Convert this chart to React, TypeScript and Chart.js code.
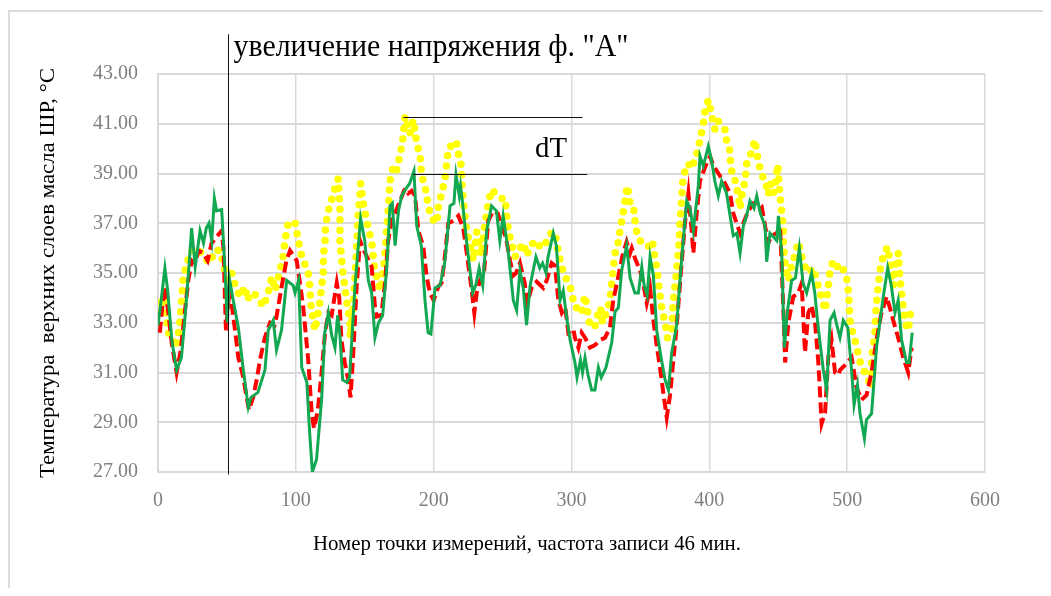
import React, { useEffect, useRef } from 'react';
import Chart from 'chart.js/auto';

// ---------- data ----------
const greenX = [0, 2.5, 5, 7, 10, 13.5, 17, 20, 22.5, 24.4, 27, 30.5, 33, 35, 37, 39, 40.9, 42.5, 46.2, 48.6, 50.3, 51.7, 54.6, 58.3, 61.9, 65.5, 67.5, 70, 72.5, 77.6, 80, 83.6, 86, 89.6, 93.4, 98, 99.4, 102, 104.3, 108, 110, 112, 115, 118.7, 121, 123.6, 126, 128.4, 130.3, 132, 134, 137, 139, 142.9, 147, 150, 152.6, 155, 157.4, 160, 163, 166, 168.3, 170, 172, 174.5, 176.8, 180, 182.6, 185.7, 187.7, 191, 193.7, 196, 198, 201, 204.6, 208, 211.9, 214.7, 216.2, 218.6, 219.5, 220.8, 224, 228.3, 230.5, 233, 235.6, 238.5, 242, 245.5, 248, 250.4, 254, 257.8, 260.2, 262.6, 265, 267.4, 270, 274.2, 277, 279, 281.5, 283, 286.8, 289, 291.7, 294, 296.5, 299, 302.5, 304, 306.5, 308, 309.8, 312, 314.6, 317, 319.5, 321.6, 325, 329.2, 331.6, 334, 336.4, 340, 342.5, 346, 348.5, 351, 352.7, 354.9, 357, 359.4, 361.8, 365, 367.9, 370.3, 372.7, 376.3, 378.7, 381.1, 383.6, 386, 388.4, 392, 393.2, 395.6, 399.3, 401.7, 404, 406.5, 408.9, 412.5, 416.2, 417.4, 420, 422.3, 424.7, 427, 429.5, 432.4, 434.4, 437, 440.4, 441.6, 444, 448.9, 450.1, 452.5, 453.7, 454.5, 456.5, 459.7, 462.5, 465.3, 468, 470.6, 474.2, 476.5, 479, 482.7, 485.1, 487.6, 490.5, 492.5, 494.8, 497.2, 500.5, 503.2, 505, 507.5, 509.3, 512.5, 514, 517.7, 521.3, 526.2, 529.4, 532, 534.7, 537, 539.5, 543.1, 545, 547.2];
const greenY = [32.9, 34.0, 35.2, 34.3, 32.3, 31.1, 31.6, 33.5, 35.3, 36.8, 35.25, 36.7, 36.2, 36.8, 37.0, 36.3, 38.0, 37.5, 37.55, 35.1, 33.0, 34.8, 33.9, 32.8, 31.1, 29.6, 30.0, 30.1, 30.2, 31.1, 32.7, 33.1, 31.9, 32.7, 34.7, 34.5, 34.2, 34.7, 31.2, 30.6, 28.6, 27.0, 27.5, 29.9, 32.6, 33.4, 32.5, 32.0, 33.3, 32.5, 30.7, 30.6, 30.8, 34.45, 37.2, 36.3, 34.7, 34.2, 32.4, 33.0, 33.3, 35.25, 37.7, 37.8, 36.1, 37.5, 38.1, 38.4, 38.6, 39.1, 36.9, 36.1, 33.9, 32.6, 32.55, 34.4, 34.5, 35.4, 37.7, 37.8, 38.95, 38.1, 38.5, 37.9, 36.2, 34.2, 34.5, 35.2, 34.5, 36.7, 37.7, 37.5, 36.3, 37.3, 35.9, 33.9, 33.5, 35.1, 34.4, 32.9, 34.5, 35.65, 35.2, 35.4, 35.0, 35.65, 36.6, 36.1, 33.9, 34.3, 33.2, 32.3, 31.4, 30.8, 31.5, 31.0, 31.6, 30.9, 30.3, 30.3, 31.2, 30.8, 31.2, 32.2, 33.45, 33.6, 35.1, 36.1, 34.8, 34.2, 34.2, 35.25, 34.5, 34.1, 35.65, 34.9, 32.7, 31.6, 30.7, 30.3, 31.8, 32.9, 34.7, 36.3, 37.9, 37.6, 36.7, 38.5, 39.7, 39.3, 40.1, 39.5, 38.7, 38.1, 38.7, 38.2, 36.9, 36.5, 36.6, 35.8, 36.9, 37.3, 37.9, 37.6, 38.1, 37.4, 36.9, 35.45, 36.6, 36.3, 37.3, 35.8, 33.4, 32.0, 33.4, 34.7, 34.8, 36.0, 34.6, 34.2, 35.0, 34.2, 32.8, 31.1, 30.3, 33.1, 33.4, 32.9, 32.4, 33.1, 32.8, 31.1, 29.7, 30.5, 29.35, 28.35, 29.1, 29.35, 32.0, 34.05, 35.2, 34.5, 33.4, 33.9, 32.3, 31.4, 31.4, 32.6];

const redX = [1.3, 3.4, 5, 7.5, 9.9, 13.5, 16.5, 19.6, 22, 24.4, 26.8, 29.5, 32.9, 36, 38.9, 42.5, 46.2, 47.5, 49.3, 51.8, 54, 55.9, 58.3, 61.9, 64.3, 66, 69, 71.6, 74, 77.5, 81.3, 84.5, 86, 89.7, 93.2, 95.8, 100.6, 103, 105.4, 109, 111.5, 113.2, 116, 118.7, 121.2, 123.6, 126, 129.7, 131.5, 133.1, 135.5, 138, 139.7, 141.7, 144.1, 146.6, 148.5, 150.3, 155, 157.4, 158.7, 162, 164.7, 167, 169.5, 172, 175.6, 179.2, 181.6, 184, 186.5, 188.9, 192.5, 194.9, 197.3, 200, 203.4, 205.8, 208.2, 210.6, 214.2, 217.9, 221.5, 224, 227.6, 229.5, 231.2, 233.6, 236.5, 239.6, 243.3, 246.5, 249.3, 252.5, 255.4, 257.8, 259.8, 262.6, 266, 267.9, 271, 274.7, 279.5, 282, 285.6, 288, 290.5, 293, 295.5, 297.7, 301.3, 302.5, 305, 307.4, 309.8, 313.4, 317, 320.7, 324.3, 327.9, 330.3, 333.9, 337, 340, 342.5, 343.7, 346, 349.7, 352, 354.6, 357, 359.4, 361.8, 364.2, 366.7, 369.1, 371.5, 373.9, 376.3, 379.9, 382.3, 384.8, 387.2, 388.4, 390.8, 393.2, 396.5, 400.5, 403, 407.8, 411.4, 415, 417.4, 419.8, 422.3, 424.7, 428.3, 431.9, 435.5, 437.9, 440.4, 442.8, 445.2, 448.9, 451.3, 452.5, 453.7, 455, 457.3, 460.9, 464.5, 467, 469.4, 471.8, 474.2, 476.7, 479.1, 481.5, 484, 486.3, 488.7, 491.2, 493.6, 494.8, 498.4, 503.2, 506.8, 510.4, 514.1, 517.7, 521.3, 524.5, 528.6, 531, 533.4, 537, 540.7, 544.3, 546.8];
const redY = [32.6, 33.8, 34.45, 33.4, 32.2, 31.0, 31.9, 33.5, 34.7, 35.5, 35.4, 35.9, 35.8, 35.5, 36.2, 36.45, 36.7, 36.0, 32.7, 34.3, 33.5, 32.7, 31.6, 30.8, 30.0, 29.5, 30.0, 30.7, 31.5, 32.4, 33.0, 32.9, 33.25, 34.45, 35.5, 35.9, 35.5, 34.6, 33.6, 31.5, 29.35, 28.75, 29.5, 31.0, 32.6, 33.4, 33.3, 34.6, 34.0, 32.3, 31.4, 30.7, 30.0, 31.8, 34.45, 36.3, 36.0, 35.8, 35.25, 33.65, 33.25, 33.3, 34.6, 36.3, 37.1, 37.4, 37.9, 38.4, 38.2, 38.3, 38.1, 36.7, 36.05, 34.85, 34.2, 33.9, 34.45, 34.6, 35.7, 37.0, 37.1, 37.3, 36.8, 35.8, 34.3, 33.4, 34.2, 34.7, 35.0, 37.1, 37.5, 37.4, 36.9, 36.4, 35.5, 34.9, 35.0, 35.4, 34.6, 33.8, 34.4, 34.65, 34.4, 34.7, 35.4, 35.3, 33.9, 33.4, 33.6, 32.6, 32.75, 32.4, 32.0, 32.6, 32.4, 32.0, 32.1, 32.3, 32.4, 32.8, 33.9, 34.85, 35.7, 36.25, 35.8, 36.0, 35.6, 35.1, 34.6, 33.8, 34.4, 33.1, 32.1, 31.2, 30.15, 29.2, 30.1, 31.5, 32.85, 35.4, 37.0, 38.2, 36.7, 35.8, 37.4, 38.7, 39.2, 39.7, 39.3, 38.9, 38.6, 38.2, 37.4, 37.0, 36.6, 37.0, 37.5, 37.8, 37.8, 37.7, 36.9, 36.2, 36.5, 36.6, 36.9, 35.25, 33.5, 31.4, 33.0, 34.05, 34.2, 34.6, 31.8, 33.4, 33.7, 33.0, 31.4, 28.95, 29.4, 31.6, 32.3, 31.0, 30.9, 31.1, 31.3, 31.6, 30.4, 29.9, 30.1, 31.0, 32.3, 33.3, 34.05, 33.6, 33.1, 32.4, 31.6, 31.0, 32.0];

const yellowX = [0, 2, 5, 7.5, 11.1, 13.5, 16, 18.4, 21, 24.4, 28, 31.7, 34, 37.7, 41, 45, 47.4, 49.8, 53.4, 56, 59.5, 63.1, 65, 67, 71.6, 76.4, 80, 82.5, 85, 88.5, 90.9, 92.1, 94.5, 99.4, 101.8, 104.3, 107, 109, 110.3, 110.8, 112.7, 113.9, 115.5, 117.5, 118.7, 119.9, 120, 121.2, 121.5, 123.6, 126, 128.4, 130.8, 132, 132, 134, 136.8, 139.3, 139.5, 141.5, 142.9, 144, 145.3, 146.5, 147, 149, 151.3, 153.5, 155.6, 156.5, 158.7, 161, 163.5, 165.4, 167, 168.3, 170.7, 173, 175.6, 177.5, 179.2, 181, 182.8, 185.2, 186.5, 187.7, 190.1, 191.3, 193.7, 195.5, 197.3, 200, 202.2, 203.5, 205.8, 208.2, 209.4, 210.6, 214.2, 216.5, 217.5, 218.6, 220.3, 220.3, 221.5, 222.7, 224, 226, 228.8, 231.2, 233, 234.7, 237, 239.6, 242, 245.6, 249, 251.8, 253, 254.2, 256.5, 259, 261.5, 265, 267.5, 269.8, 272, 274.7, 277.5, 280.7, 283, 285.6, 288, 290.5, 294.1, 297.7, 299, 301.3, 303, 305, 307.4, 309.8, 311.5, 313.4, 317, 319.5, 321, 322.5, 324.3, 327.9, 329.2, 330.3, 331.6, 333.5, 335.2, 337.1, 338.8, 340.5, 342.5, 344.9, 345.7, 347.3, 349.7, 352.5, 355.7, 358.6, 360, 361.8, 363, 364.2, 365.4, 367.9, 369.6, 372.7, 373.9, 375.1, 376.3, 377.5, 378.2, 378.7, 381, 384.7, 387, 390.8, 393.2, 395.6, 396.9, 399.3, 401.7, 404.1, 406.5, 409, 411.4, 412.5, 415, 415.5, 417.4, 419, 421, 422.3, 424, 425.9, 427.1, 429, 430.7, 433.1, 434.5, 436.8, 438.5, 440.4, 442.8, 444, 446.5, 448.4, 449.6, 451.3, 452.5, 453.7, 453.7, 454.5, 455.6, 457.3, 459.7, 462.5, 464.5, 466.9, 469, 471.8, 475.5, 477.9, 480.3, 484, 486.3, 487.6, 489.9, 493.6, 496, 499.6, 501, 501.6, 502.4, 505.7, 508.1, 510.5, 513, 515.3, 517.7, 517.7, 518.9, 520.2, 520.6, 521.4, 522.6, 523.8, 526.2, 529.3, 531, 533.5, 535, 537.1, 538.3, 539.5, 540.7, 542, 544.3, 546];
const yellowY = [33.4, 34.0, 33.8, 32.6, 32.3, 32.0, 33.1, 34.85, 35.4, 35.9, 36.0, 35.8, 35.6, 35.4, 35.9, 35.9, 35.4, 34.7, 35.0, 34.5, 34.05, 34.45, 33.9, 34.2, 34.1, 33.65, 34.2, 34.85, 34.3, 35.1, 35.7, 36.3, 37.0, 37.05, 36.3, 35.65, 35.3, 35.0, 34.4, 33.8, 33.1, 32.7, 33.2, 33.85, 34.45, 35.05, 35.7, 36.3, 36.9, 37.5, 37.95, 38.4, 38.8, 37.6, 36.3, 35.1, 33.9, 33.0, 32.4, 33.6, 34.85, 35.9, 37.4, 38.1, 38.6, 37.8, 37.1, 36.6, 36.05, 35.4, 34.85, 34.3, 35.05, 36.3, 37.5, 38.7, 39.3, 39.1, 39.75, 40.3, 41.3, 40.9, 40.6, 41.15, 40.7, 40.2, 39.75, 38.9, 38.5, 37.9, 37.4, 37.1, 37.0, 37.7, 38.2, 38.8, 39.4, 40.0, 40.2, 40.3, 39.8, 39.75, 39.2, 38.7, 37.9, 37.3, 36.7, 36.2, 35.5, 36.65, 36.2, 35.7, 36.9, 37.8, 38.35, 38.15, 38.0, 38.0, 37.3, 36.7, 36.2, 35.65, 35.9, 36.2, 35.7, 36.0, 36.2, 36.3, 36.0, 36.2, 36.3, 36.65, 36.6, 35.8, 35.0, 34.6, 34.45, 33.9, 33.6, 33.6, 33.4, 34.1, 33.5, 32.85, 32.85, 33.4, 33.6, 33.0, 33.25, 33.9, 34.6, 35.2, 35.8, 36.1, 36.7, 37.3, 37.9, 38.5, 37.8, 37.7, 37.25, 36.65, 36.3, 36.2, 36.05, 36.3, 35.8, 35.2, 34.7, 34.1, 33.6, 33.0, 32.4, 32.6, 33.9, 34.5, 35.1, 35.8, 36.3, 37.0, 38.9, 39.4, 39.2, 39.75, 40.35, 40.95, 41.55, 41.95, 41.35, 40.75, 41.1, 40.9, 40.75, 40.3, 39.9, 39.3, 38.8, 38.7, 38.1, 37.6, 38.3, 38.7, 39.4, 39.6, 39.9, 40.35, 39.8, 39.2, 38.9, 38.75, 38.15, 38.6, 38.2, 38.8, 39.35, 38.1, 37.45, 36.85, 36.25, 35.6, 35.05, 34.7, 35.3, 35.8, 36.25, 35.7, 35.3, 35.0, 35.2, 34.7, 34.2, 33.5, 34.45, 35.1, 35.5, 35.2, 35.3, 34.8, 34.2, 33.5, 32.9, 32.3, 31.7, 31.2, 31.0, 30.7, 30.4, 31.6, 32.0, 32.65, 33.25, 33.85, 34.5, 35.1, 35.7, 36.05, 35.5, 34.5, 35.2, 35.8, 34.8, 34.2, 33.6, 33.0, 32.7, 33.4];

// axes
const X_MIN = 0, X_MAX = 600, X_STEP = 100;
const Y_MIN = 27, Y_MAX = 43, Y_STEP = 2;

// annotations (data coordinates)
const EVENT_X = 51;
const EVENT_Y_TOP = 44.6;
const EVENT_Y_BOTTOM = 26.9;
const DT_TOP = { y: 41.26, x1: 178, x2: 308 };
const DT_BOTTOM = { y: 38.97, x1: 184.8, x2: 311.5 };

const EVENT_TEXT = 'увеличение напряжения ф. "А"';
const DT_TEXT = 'dT';
const Y_TITLE = 'Температура  верхних слоев масла ШР, °С';
const X_TITLE = 'Номер точки измерений, частота записи 46 мин.';

const pts = (xs: number[], ys: number[]) => xs.map((x, i) => ({ x, y: ys[i] }));

export default function App() {
  const ref = useRef<HTMLCanvasElement>(null);

  useEffect(() => {
    const SERIF = '"Liberation Serif", "Times New Roman", serif';

    const fitText = (ctx: CanvasRenderingContext2D, text: string, font: string, targetW: number, sy: number,
      px: number, py: number, align: CanvasTextAlign, rotate = false) => {
      ctx.save();
      ctx.font = font;
      const w = ctx.measureText(text).width;
      const sx = targetW / w;
      ctx.translate(px, py);
      if (rotate) ctx.rotate(-Math.PI / 2);
      ctx.scale(sx, sy);
      ctx.textAlign = align;
      ctx.textBaseline = rotate ? 'middle' : 'alphabetic';
      ctx.fillText(text, 0, 0);
      ctx.restore();
    };

    const annot = {
      id: 'annot',
      afterDraw(chart: any) {
        const { ctx } = chart;
        const xs = chart.scales.x, ys = chart.scales.y;
        ctx.save();
        ctx.strokeStyle = '#111';
        ctx.lineWidth = 1;
        const vx = Math.round(xs.getPixelForValue(EVENT_X)) + 0.5;
        ctx.beginPath();
        ctx.moveTo(vx, ys.getPixelForValue(EVENT_Y_TOP));
        ctx.lineTo(vx, ys.getPixelForValue(EVENT_Y_BOTTOM));
        ctx.stroke();
        for (const l of [DT_TOP, DT_BOTTOM]) {
          const py = Math.round(ys.getPixelForValue(l.y)) + 0.5;
          ctx.beginPath();
          ctx.moveTo(xs.getPixelForValue(l.x1), py);
          ctx.lineTo(xs.getPixelForValue(l.x2), py);
          ctx.stroke();
        }
        ctx.fillStyle = '#000';
        fitText(ctx, EVENT_TEXT, `29px ${SERIF}`, 395, 1.12, vx + 5, 56, 'left');
        fitText(ctx, DT_TEXT, `29px ${SERIF}`, 32, 1.05, 535, 157, 'left');
        fitText(ctx, Y_TITLE, `20px ${SERIF}`, 410, 1, 49, 273, 'center', true);
        fitText(ctx, X_TITLE, `20px ${SERIF}`, 428, 1.1, 527, 550, 'center');
        ctx.restore();
      },
    };

    const tickFont = { family: SERIF, size: 20 };
    const chart = new Chart(ref.current!, {
      type: 'scatter',
      data: {
        datasets: [
          {
            label: 'green',
            data: pts(greenX, greenY),
            showLine: true,
            borderColor: '#12a852',
            borderWidth: 3,
            pointRadius: 0,
            tension: 0,
          },
          {
            label: 'red',
            data: pts(redX, redY),
            showLine: true,
            borderColor: '#ff0000',
            borderWidth: 4,
            borderDash: [11, 5],
            pointRadius: 0,
            tension: 0,
          },
          {
            label: 'yellow',
            data: pts(yellowX, yellowY),
            showLine: true,
            borderColor: '#ffff00',
            borderWidth: 7.5,
            borderDash: [0, 10.5],
            borderCapStyle: 'round',
            pointRadius: 0,
            tension: 0,
          },
        ],
      },
      options: {
        responsive: false,
        animation: false,
        devicePixelRatio: 1,
        layout: { padding: { left: 0, top: 74, right: 66, bottom: 0 } },
        plugins: { legend: { display: false }, tooltip: { enabled: false } },
        scales: {
          x: {
            type: 'linear',
            min: X_MIN,
            max: X_MAX,
            ticks: { stepSize: X_STEP, font: tickFont, color: '#808080', padding: 17, maxRotation: 0 },
            grid: { color: '#d9d9d9', lineWidth: 1.5, drawTicks: false },
            border: { color: '#d9d9d9', width: 2 },
            afterFit: (s: any) => { s.height = 124; },
          },
          y: {
            type: 'linear',
            min: Y_MIN,
            max: Y_MAX,
            ticks: {
              stepSize: Y_STEP,
              font: tickFont,
              color: '#808080',
              padding: 20,
              callback: (v: any) => Number(v).toFixed(2),
            },
            grid: { color: '#d9d9d9', lineWidth: 2, drawTicks: false },
            border: { color: '#d9d9d9', width: 2 },
            afterFit: (s: any) => { s.width = 158; },
          },
        },
      } as any,
      plugins: [annot],
    });
    return () => chart.destroy();
  }, []);

  return (
    <div
      style={{
        position: 'relative',
        top: 2,
        width: 1040,
        height: 580,
        borderTop: '2px solid #dcdcdc',
        borderLeft: '2px solid #dcdcdc',
        boxSizing: 'border-box',
      }}
    >
      <canvas
        ref={ref}
        width={1051}
        height={596}
        style={{ position: 'absolute', left: -10, top: -12, width: 1051, height: 596 }}
      />
    </div>
  );
}
